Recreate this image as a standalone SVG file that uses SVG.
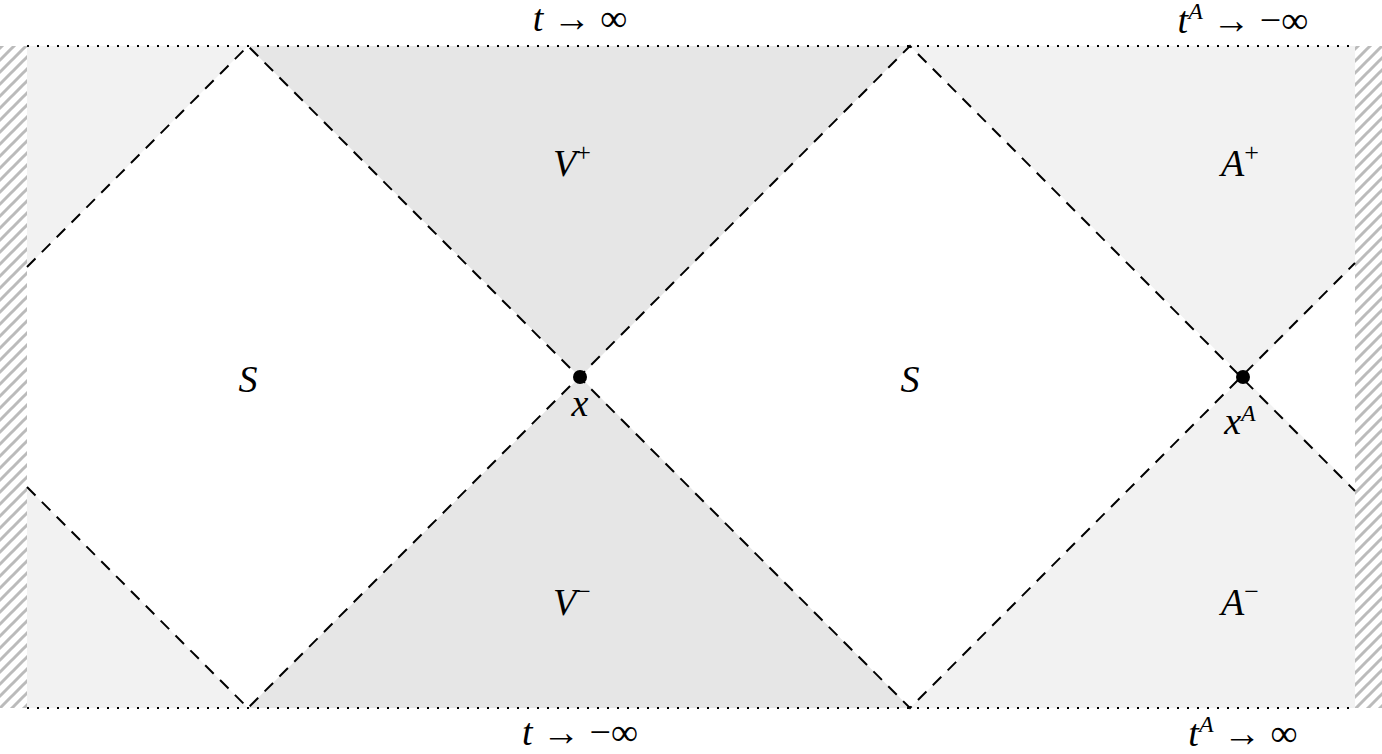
<svg xmlns="http://www.w3.org/2000/svg" width="1382" height="754" viewBox="0 0 1382 754">
<style>
.m{font-family:"Liberation Serif","DejaVu Serif",serif;font-size:38px;fill:#000}
.i{font-style:italic}
.s{font-size:26px}
.d{stroke:#000;stroke-width:2;stroke-dasharray:12 9;fill:none}
.dot{stroke:#000;stroke-width:2;stroke-dasharray:2 8;fill:none}
</style>
<defs>
<pattern id="h" width="12" height="12" patternUnits="userSpaceOnUse">
<path d="M-3,15 L15,-3 M-3,3 L3,-3 M9,15 L15,9" stroke="#bbb" stroke-width="3"/>
</pattern>
</defs>
<rect width="1382" height="754" fill="#fff"/>
<g id="regions">
<rect x="0" y="46" width="27" height="662" fill="url(#h)"/>
<rect x="1355" y="46" width="27" height="662" fill="url(#h)"/>
<rect x="27" y="46" width="1328" height="662" fill="#f2f2f2"/>
<polygon points="248,46 580,377 248,708 27,487 27,267" fill="#fff"/>
<polygon points="910,46 1243,377 910,708 580,377" fill="#fff"/>
<polygon points="1243,377 1355,265 1355,489" fill="#fff"/>
<polygon points="248,46 910,46 580,377" fill="#e6e6e6"/>
<polygon points="248,708 910,708 580,377" fill="#e6e6e6"/>
</g>
<g id="connectors">
<line class="dot" x1="27" y1="46" x2="1355" y2="46"/>
<line class="dot" x1="27" y1="708" x2="1355" y2="708"/>
<polyline class="d" points="27,267 248,46 910,708 1355,263"/>
<polyline class="d" points="27,487 248,708 910,46 1355,491"/>
</g>
<g id="points">
<circle cx="580" cy="377" r="7"/>
<circle cx="1243" cy="377" r="7"/>
</g>
<g id="labels">
<text class="m i" x="248" y="392" text-anchor="middle">S</text>
<text class="m i" x="910" y="392" text-anchor="middle">S</text>
<text class="m" x="572" y="176" text-anchor="middle"><tspan class="i">V</tspan><tspan class="s" dy="-15">+</tspan></text>
<text class="m" x="572" y="615" text-anchor="middle"><tspan class="i">V</tspan><tspan class="s" dy="-15">−</tspan></text>
<text class="m" x="1240" y="176" text-anchor="middle"><tspan class="i">A</tspan><tspan class="s" dy="-15">+</tspan></text>
<text class="m" x="1240" y="615" text-anchor="middle"><tspan class="i">A</tspan><tspan class="s" dy="-15">−</tspan></text>
<text class="m i" x="580" y="416" text-anchor="middle" font-size="32">x</text>
<text class="m" x="1240" y="434" text-anchor="middle" font-size="32"><tspan class="i">x</tspan><tspan class="i" dy="-13" font-size="24">A</tspan></text>
<text class="m" x="580" y="31" text-anchor="middle"><tspan class="i">t</tspan> <tspan font-size="38">→</tspan> ∞</text>
<text class="m" x="1243" y="33" text-anchor="middle"><tspan class="i">t</tspan><tspan class="i" font-size="24" dy="-14">A</tspan><tspan dy="14"> → −∞</tspan></text>
<text class="m" x="580" y="745" text-anchor="middle"><tspan class="i">t</tspan> → −∞</text>
<text class="m" x="1243" y="746" text-anchor="middle"><tspan class="i">t</tspan><tspan class="i" font-size="24" dy="-14">A</tspan><tspan dy="14"> → ∞</tspan></text>
</g>
</svg>
